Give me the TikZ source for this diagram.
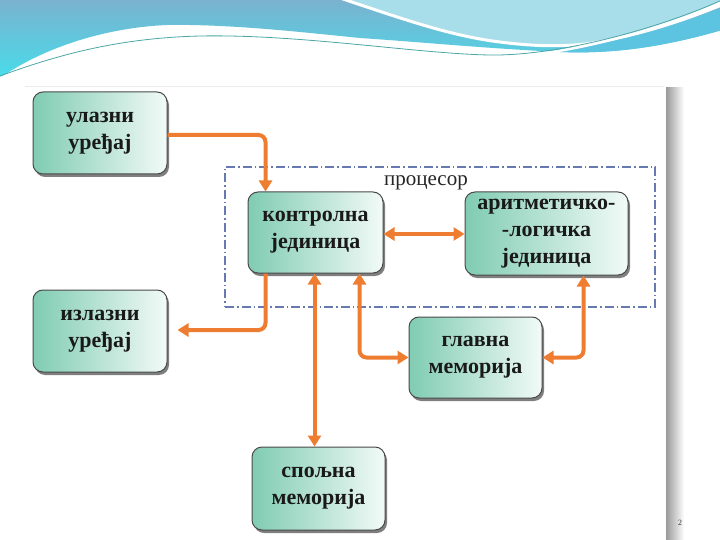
\documentclass[tikz,border=0pt]{standalone}
\usepackage{fontspec}
\setmainfont{Liberation Serif}
\usetikzlibrary{arrows.meta,calc,shadows}
\definecolor{arrorange}{HTML}{EE7D31}
\definecolor{boxteal}{HTML}{80CCB2}
\definecolor{boxlight}{HTML}{F2FAF7}
\definecolor{boxborder}{HTML}{4A4A4A}
\definecolor{procblue}{HTML}{6679B0}
\definecolor{wavetop}{HTML}{7AB2CF}
\definecolor{wavebot}{HTML}{48DCEA}
\definecolor{waveband}{HTML}{5CC4E0}
\definecolor{wavelight}{HTML}{A8DDEA}
\begin{document}
\begin{tikzpicture}[x=1pt,y=-1pt,
  unit/.style={draw=boxborder,line width=1pt,rounded corners=10pt,
    left color=boxteal,right color=boxlight,
    drop shadow={shadow xshift=2pt,shadow yshift=-3pt,opacity=0.5,fill=black},
    align=center,font=\fontsize{22}{27}\selectfont\bfseries,text=black!90,
    inner sep=0pt},
  arr/.style={draw=arrorange,line width=4pt,rounded corners=7pt,
    arrows={-Triangle[width=13pt,length=11pt]}},
  darr/.style={arr,arrows={Triangle[width=13pt,length=11pt]-Triangle[width=13pt,length=11pt]}},
  proc/.style={draw=procblue,line width=1.5pt,dash pattern=on 9pt off 3pt on 1.5pt off 3pt}]
\useasboundingbox (0,0) rectangle (720,540);
\fill[white] (0,0) rectangle (720,540);
% wave background
\shade[top color=wavetop,bottom color=wavebot]
  (0,0) -- (722,0) -- (722,30) .. controls (660,48) and (610,54) .. (560,52)
  .. controls (480,48) and (420,42) .. (360,38)
  .. controls (300,32) and (230,24) .. (167,25)
  .. controls (100,28) and (40,50) .. (0,78) -- cycle;
\fill[waveband] (722,8) .. controls (660,30) and (610,46) .. (556,47)
  -- (560,52) .. controls (610,54) and (660,48) .. (722,30) -- cycle;
\fill[wavelight,draw=white,line width=3pt]
  (340,-2) .. controls (400,18) and (450,36) .. (500,42)
  .. controls (530,46) and (560,47) .. (585,44)
  .. controls (640,36) and (690,18) .. (724,4) -- (724,-2) -- cycle;
\draw[white,line width=2.5pt]
  (0,78) .. controls (60,56) and (120,40) .. (200,38)
  .. controls (300,36) and (420,56) .. (490,57)
  .. controls (560,58) and (660,30) .. (722,2);
\draw[teal!70,line width=0.8pt]
  (0,76) .. controls (60,54) and (120,38) .. (200,36)
  .. controls (300,34) and (420,54) .. (490,55)
  .. controls (560,56) and (660,28) .. (722,0);
% panel shadow
\shade[left color=black!40,right color=white] (666,88) rectangle (684,540);
\draw[black!8,line width=0.5pt] (25,86) -- (664,86);
% processor frame
\node[proc,minimum width=430pt,minimum height=140pt,inner sep=0pt] (proc) at (440,237) {};
\node[font=\fontsize{21}{25}\selectfont,text=black!85] (proclabel) at (426,183) {процесор};
% units
\node[unit,minimum width=134pt,minimum height=82pt] (in) at (100,133) {улазни\\уређај};
\node[unit,minimum width=134pt,minimum height=82pt] (out) at (100,331) {излазни\\уређај};
\node[unit,minimum width=135pt,minimum height=81pt] (cu) at (315.5,232.5) {контролна\\јединица};
\node[unit,minimum width=163pt,minimum height=83pt] (alu) at (546.5,233.5) {аритметичко-\\-логичка\\јединица};
\node[unit,minimum width=133pt,minimum height=81pt] (mm) at (475.5,357.5) {главна\\меморија};
\node[unit,minimum width=133pt,minimum height=83pt] (ext) at (318.5,488.5) {спољна\\меморија};
% connectors
\draw[arr] ($(in.east)+(0,2)$) -| ($(cu.north west)+(18,0)$);
\draw[arr] ($(cu.south west)+(18,0)$) |- ($(out.east)+(10,-1)$);
\draw[darr] ($(cu.east)+(0,1.5)$) -- ($(alu.west)+(0,0.5)$);
\draw[darr] ($(cu.south west)+(67,0)$) -- ($(ext.north west)+(63,0)$);
\draw[darr] ($(cu.south west)+(112,0)$) |- (mm.west);
\draw[darr] ($(alu.south west)+(119,0)$) |- (mm.east);
\node[font=\fontsize{8}{9}\selectfont,text=black!80] (pg) at (680,523) {2};
\end{tikzpicture}
\end{document}
